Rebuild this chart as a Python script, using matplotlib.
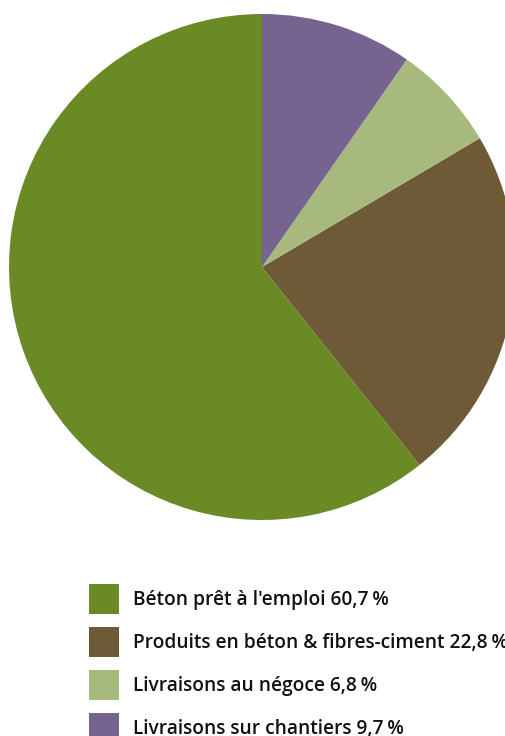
import matplotlib
matplotlib.use("Agg")
import matplotlib.pyplot as plt
from matplotlib.patches import Patch

# parts of activity, in %
labels = [
    "Béton prêt à l'emploi",
    "Produits en béton & fibres-ciment",
    "Livraisons au négoce",
    "Livraisons sur chantiers",
]
shares = [60.7, 22.8, 6.8, 9.7]
colors = ["#6A8A26", "#6F5A38", "#A8B97E", "#74648F"]

plt.rcParams["font.family"] = ["Open Sans", "DejaVu Sans"]

W, H = 506, 736
fig = plt.figure(figsize=(W / 100, H / 100), dpi=100)

# pie: centre (262, 267) px, radius 253 px
cx, cy, r = 262, 267, 253
ax = fig.add_axes([(cx - r) / W, 1 - (cy + r) / H, 2 * r / W, 2 * r / H])
ax.pie(shares, colors=colors, startangle=90, counterclock=True,
       radius=1, wedgeprops=dict(linewidth=0))
ax.set_xlim(-1, 1)
ax.set_ylim(-1, 1)
ax.set_axis_off()

fmt = lambda v: f"{v:.1f}".replace(".", ",") + "\u2009%"
handles = [Patch(facecolor=c, edgecolor="none") for c in colors]
texts = [f"{l} {fmt(v)}" for l, v in zip(labels, shares)]

fs = 13.8
box = 30 * 0.72                      # 30 px square, in points
hh = (box / fs - 0.245) / 0.65       # undo the legend's descent offset
fig.legend(handles, texts, loc="upper left",
           bbox_to_anchor=(89 / W, 1 - 584 / H), bbox_transform=fig.transFigure,
           frameon=False, borderpad=0, borderaxespad=0,
           handlelength=box / fs, handleheight=hh,
           handletextpad=14 * 0.72 / fs, labelspacing=(43 * 0.72 - box) / fs,
           prop=dict(size=fs, weight="semibold"), labelcolor="#111111")

fig.savefig("out.png", dpi=100)
